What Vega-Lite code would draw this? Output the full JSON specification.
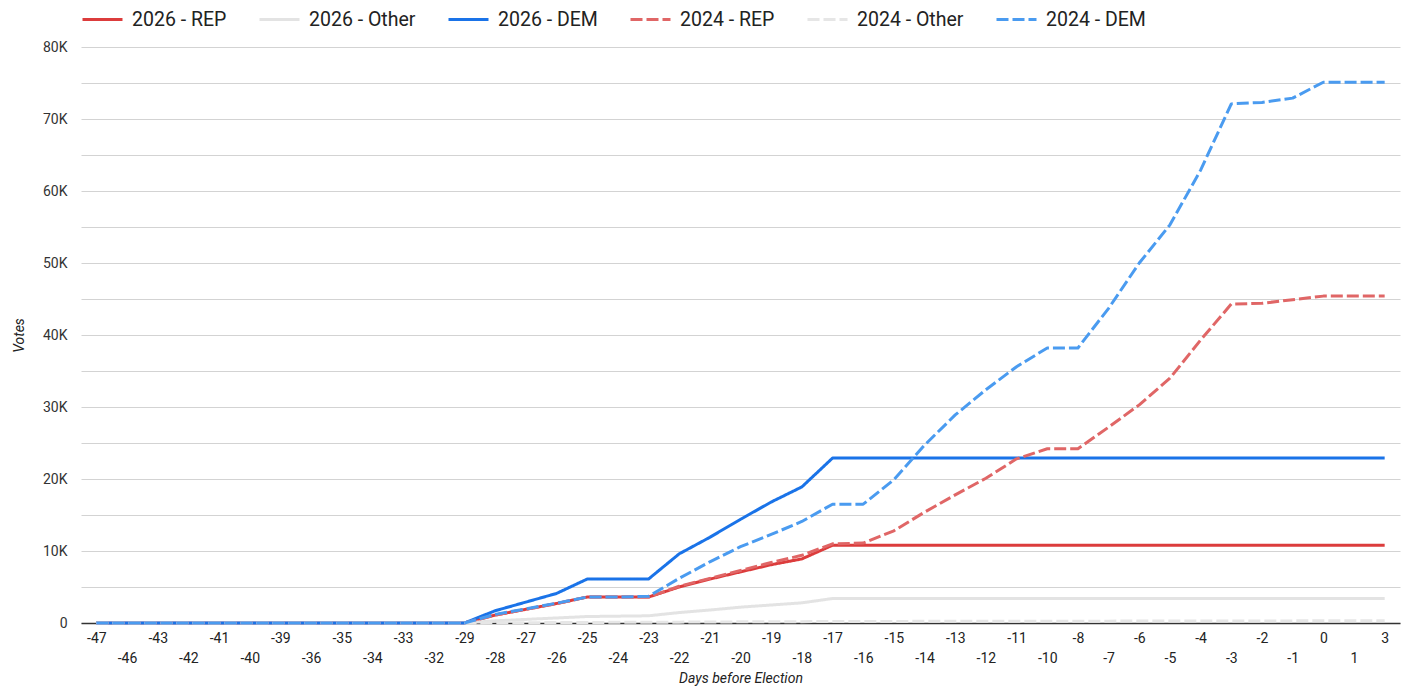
{
  "$schema": "https://vega.github.io/schema/vega-lite/v6.json",
  "width": 1319,
  "height": 576,
  "autosize": {"type": "none"},
  "padding": {"left": 81, "top": 47, "right": 6, "bottom": 66},
  "background": "white",
  "config": {
    "view": {"stroke": null},
    "font": "Roboto",
    "axis": {"labelFont": "Roboto", "titleFont": "Roboto"},
    "legend": {
      "labelFont": "Roboto",
      "title": null,
      "orient": "none",
      "direction": "horizontal",
      "legendX": 0,
      "legendY": -49,
      "padding": 0,
      "symbolType": "stroke",
      "symbolSize": 1600,
      "labelFontSize": 19.5,
      "labelColor": "#222",
      "labelOffset": 8,
      "columnPadding": 26
    }
  },
  "data": {
    "values": [
      {"d": -47, "R26": 0, "O26": 0, "D26": 0, "R24": 0, "O24": 0, "D24": 0},
      {"d": -46, "R26": 0, "O26": 0, "D26": 0, "R24": 0, "O24": 0, "D24": 0},
      {"d": -43, "R26": 0, "O26": 0, "D26": 0, "R24": 0, "O24": 0, "D24": 0},
      {"d": -42, "R26": 0, "O26": 0, "D26": 0, "R24": 0, "O24": 0, "D24": 0},
      {"d": -41, "R26": 0, "O26": 0, "D26": 0, "R24": 0, "O24": 0, "D24": 0},
      {"d": -40, "R26": 0, "O26": 0, "D26": 0, "R24": 0, "O24": 0, "D24": 0},
      {"d": -39, "R26": 0, "O26": 0, "D26": 0, "R24": 0, "O24": 0, "D24": 0},
      {"d": -36, "R26": 0, "O26": 0, "D26": 0, "R24": 0, "O24": 0, "D24": 0},
      {"d": -35, "R26": 0, "O26": 0, "D26": 0, "R24": 0, "O24": 0, "D24": 0},
      {"d": -34, "R26": 0, "O26": 0, "D26": 0, "R24": 0, "O24": 0, "D24": 0},
      {"d": -33, "R26": 0, "O26": 0, "D26": 0, "R24": 0, "O24": 0, "D24": 0},
      {"d": -32, "R26": 0, "O26": 0, "D26": 0, "R24": 0, "O24": 0, "D24": 0},
      {"d": -29, "R26": 0, "O26": 0, "D26": 0, "R24": 0, "O24": 0, "D24": 0},
      {"d": -28, "R26": 1100, "O26": 300, "D26": 1700, "R24": 1100, "O24": 20, "D24": 1200},
      {"d": -27, "R26": 1900, "O26": 500, "D26": 2900, "R24": 1900, "O24": 40, "D24": 1950},
      {"d": -26, "R26": 2700, "O26": 700, "D26": 4100, "R24": 2700, "O24": 60, "D24": 2750},
      {"d": -25, "R26": 3600, "O26": 900, "D26": 6100, "R24": 3600, "O24": 80, "D24": 3600},
      {"d": -24, "R26": 3600, "O26": 950, "D26": 6100, "R24": 3600, "O24": 90, "D24": 3600},
      {"d": -23, "R26": 3600, "O26": 1000, "D26": 6100, "R24": 3600, "O24": 100, "D24": 3700},
      {"d": -22, "R26": 5000, "O26": 1450, "D26": 9600, "R24": 5100, "O24": 120, "D24": 6200},
      {"d": -21, "R26": 6100, "O26": 1800, "D26": 11900, "R24": 6200, "O24": 140, "D24": 8500},
      {"d": -20, "R26": 7100, "O26": 2200, "D26": 14400, "R24": 7300, "O24": 160, "D24": 10600},
      {"d": -19, "R26": 8100, "O26": 2500, "D26": 16800, "R24": 8400, "O24": 180, "D24": 12300},
      {"d": -18, "R26": 8900, "O26": 2800, "D26": 18900, "R24": 9400, "O24": 190, "D24": 14100},
      {"d": -17, "R26": 10800, "O26": 3400, "D26": 22900, "R24": 11000, "O24": 210, "D24": 16500},
      {"d": -16, "R26": 10800, "O26": 3400, "D26": 22900, "R24": 11100, "O24": 210, "D24": 16500},
      {"d": -15, "R26": 10800, "O26": 3400, "D26": 22900, "R24": 12800, "O24": 220, "D24": 19900},
      {"d": -14, "R26": 10800, "O26": 3400, "D26": 22900, "R24": 15400, "O24": 230, "D24": 24700},
      {"d": -13, "R26": 10800, "O26": 3400, "D26": 22900, "R24": 17800, "O24": 235, "D24": 28900},
      {"d": -12, "R26": 10800, "O26": 3400, "D26": 22900, "R24": 20100, "O24": 240, "D24": 32400},
      {"d": -11, "R26": 10800, "O26": 3400, "D26": 22900, "R24": 22800, "O24": 245, "D24": 35600},
      {"d": -10, "R26": 10800, "O26": 3400, "D26": 22900, "R24": 24200, "O24": 250, "D24": 38200},
      {"d": -8, "R26": 10800, "O26": 3400, "D26": 22900, "R24": 24200, "O24": 250, "D24": 38200},
      {"d": -7, "R26": 10800, "O26": 3400, "D26": 22900, "R24": 27200, "O24": 260, "D24": 43700},
      {"d": -6, "R26": 10800, "O26": 3400, "D26": 22900, "R24": 30300, "O24": 265, "D24": 50000},
      {"d": -5, "R26": 10800, "O26": 3400, "D26": 22900, "R24": 34000, "O24": 270, "D24": 55300},
      {"d": -4, "R26": 10800, "O26": 3400, "D26": 22900, "R24": 39300, "O24": 280, "D24": 62900},
      {"d": -3, "R26": 10800, "O26": 3400, "D26": 22900, "R24": 44300, "O24": 290, "D24": 72100},
      {"d": -2, "R26": 10800, "O26": 3400, "D26": 22900, "R24": 44400, "O24": 290, "D24": 72300},
      {"d": -1, "R26": 10800, "O26": 3400, "D26": 22900, "R24": 44900, "O24": 295, "D24": 72900},
      {"d": 0, "R26": 10800, "O26": 3400, "D26": 22900, "R24": 45400, "O24": 300, "D24": 75100},
      {"d": 1, "R26": 10800, "O26": 3400, "D26": 22900, "R24": 45400, "O24": 300, "D24": 75100},
      {"d": 3, "R26": 10800, "O26": 3400, "D26": 22900, "R24": 45400, "O24": 300, "D24": 75100}
    ]
  },
  "transform": [
    {"fold": ["R26", "O26", "D26", "R24", "O24", "D24"], "as": ["key", "v"]},
    {"lookup": "key", "from": {"data": {"values": [
      {"key": "R26", "s": "2026 - REP"},
      {"key": "O26", "s": "2026 - Other"},
      {"key": "D26", "s": "2026 - DEM"},
      {"key": "R24", "s": "2024 - REP"},
      {"key": "O24", "s": "2024 - Other"},
      {"key": "D24", "s": "2024 - DEM"}
    ]}, "key": "key", "fields": ["s"]}}
  ],
  "mark": {"type": "line", "strokeJoin": "round"},
  "encoding": {
    "x": {
      "field": "d",
      "type": "ordinal",
      "scale": {"padding": 0.5},
      "axis": {
        "title": "Days before Election",
        "titleFontStyle": "italic",
        "titleFontWeight": "normal",
        "titleFontSize": 14,
        "titleColor": "#222",
        "titlePadding": 6,
        "labelAngle": 0,
        "labelFontSize": 14,
        "labelColor": "#222",
        "labelBaseline": "top",
        "labelLineHeight": 20,
        "labelPadding": 8,
        "labelOverlap": false,
        "labelExpr": "indexof([-46,-42,-40,-36,-34,-32,-28,-26,-24,-22,-20,-18,-16,-14,-12,-10,-7,-5,-3,-1,1], datum.value) >= 0 ? ['', '' + datum.value] : '' + datum.value",
        "ticks": false,
        "domain": true,
        "domainColor": "#333",
        "domainWidth": 1.5,
        "grid": false
      }
    },
    "y": {
      "field": "v",
      "type": "quantitative",
      "scale": {"domain": [0, 80000], "nice": false},
      "axis": {
        "title": "Votes",
        "titleFontStyle": "italic",
        "titleFontWeight": "normal",
        "titleFontSize": 14,
        "titleColor": "#222",
        "titlePadding": 16,
        "values": [0, 5000, 10000, 15000, 20000, 25000, 30000, 35000, 40000, 45000, 50000, 55000, 60000, 65000, 70000, 75000, 80000],
        "labelExpr": "datum.value == 0 ? '0' : (datum.value % 10000 == 0 ? (datum.value / 1000) + 'K' : '')",
        "labelFontSize": 14,
        "labelColor": "#333",
        "labelPadding": 14,
        "ticks": false,
        "domain": false,
        "grid": true,
        "gridColor": "#d3d3d3",
        "gridWidth": 1
      }
    },
    "color": {
      "field": "s",
      "type": "nominal",
      "scale": {
        "domain": ["2026 - REP", "2026 - Other", "2026 - DEM", "2024 - REP", "2024 - Other", "2024 - DEM"],
        "range": ["#dc3c3c", "#e3e3e3", "#1a73e8", "#e06666", "#e6e6e6", "#4a9bf0"]
      }
    },
    "strokeDash": {
      "field": "s",
      "type": "nominal",
      "scale": {
        "domain": ["2026 - REP", "2026 - Other", "2026 - DEM", "2024 - REP", "2024 - Other", "2024 - DEM"],
        "range": [[1, 0], [1, 0], [1, 0], [12, 4], [12, 4], [12, 4]]
      }
    },
    "strokeWidth": {
      "field": "s",
      "type": "nominal",
      "scale": {
        "domain": ["2026 - REP", "2026 - Other", "2026 - DEM", "2024 - REP", "2024 - Other", "2024 - DEM"],
        "range": [3, 3, 3, 1.4, 1.4, 1.4]
      }
    }
  }
}
